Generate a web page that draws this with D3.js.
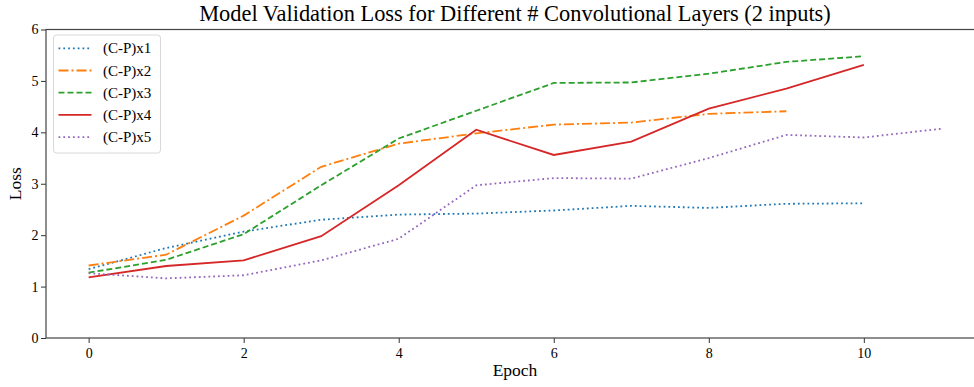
<!DOCTYPE html>
<html><head><meta charset="utf-8">
<script src="https://cdn.jsdelivr.net/npm/d3@7"></script>
<style>body{margin:0;background:#fff}svg{display:block}text{font-family:"Liberation Serif","Times New Roman",serif;fill:#000}</style>
</head><body><svg id="c" width="974" height="387"></svg>
<script>
const seriesNames = ["(C-P)x1","(C-P)x2","(C-P)x3","(C-P)x4","(C-P)x5"];
const x1 = [1.34,1.75,2.07,2.30,2.40,2.42,2.48,2.57,2.53,2.61,2.62];
const x2 = [1.41,1.62,2.38,3.33,3.78,3.98,4.15,4.19,4.36,4.41];
const x3 = [1.27,1.52,2.02,2.97,3.88,4.42,4.96,4.97,5.14,5.37,5.48];
const x4 = [1.18,1.40,1.51,1.98,2.97,4.05,3.56,3.82,4.46,4.85,5.31];
const x5 = [1.26,1.16,1.22,1.51,1.93,2.97,3.11,3.10,3.50,3.95,3.90,4.07];
const xTicks = [0,2,4,6,8,10];
const yTicks = [0,1,2,3,4,5,6];
const colors = ["#1f77b4","#ff7f0e","#2ca02c","#d62728","#9467bd"];
const dashes = ["1.8,3","10,3,2,3","6,3","none","1.8,3"];

const svg = d3.select("#c");
const L=46, R=984, T=29.5, B=338;
const x = d3.scaleLinear().domain([-0.55,11.55]).range([L,R]);
const y = d3.scaleLinear().domain([0,6]).range([B,T]);
const g = svg.append("g");
const FF = '"Liberation Serif","Times New Roman",serif';

const xa = g.append("g").attr("transform",`translate(0,${B})`).call(d3.axisBottom(x).tickValues(xTicks).tickFormat(d3.format("d")).tickSize(5).tickPadding(5));
const ya = g.append("g").attr("transform",`translate(${L},0)`).call(d3.axisLeft(y).tickValues(yTicks).tickFormat(d3.format("d")).tickSize(5).tickPadding(2.5));
[xa,ya].forEach(a=>{a.attr("font-family",FF).attr("font-size",14);a.select(".domain").remove();a.selectAll("text").style("font-family",FF).style("font-size","14px");a.selectAll("line").attr("stroke","#333");});
g.append("rect").attr("x",L).attr("y",T).attr("width",R-L).attr("height",B-T).attr("fill","none").attr("stroke","#444").attr("stroke-width",1.2);

const data=[x1,x2,x3,x4,x5];
const line=d3.line().x((d,i)=>x(i)).y(d=>y(d));
data.forEach((s,k)=>{
  g.append("path").datum(s).attr("d",line).attr("fill","none").attr("stroke",colors[k]).attr("stroke-width",1.8).attr("stroke-dasharray",dashes[k]);
});

// legend
const lg=g.append("g");
lg.append("rect").attr("x",53.5).attr("y",35).attr("width",107).attr("height",118).attr("rx",3).attr("fill","#fff").attr("fill-opacity",0.8).attr("stroke","#d8d8d8");
seriesNames.forEach((n,k)=>{
  const yy=48.3+k*22.2;
  lg.append("line").attr("x1",58.5).attr("x2",91.5).attr("y1",yy).attr("y2",yy).attr("stroke",colors[k]).attr("stroke-width",1.8).attr("stroke-dasharray",dashes[k]);
  lg.append("text").attr("x",103).attr("y",yy+5).style("font-size","15px").text(n);
});

svg.append("text").attr("x",(L+R)/2).attr("y",21).attr("text-anchor","middle").style("font-size","22.4px").text("Model Validation Loss for Different # Convolutional Layers (2 inputs)");
svg.append("text").attr("x",(L+R)/2).attr("y",376).attr("text-anchor","middle").style("font-size","17.5px").text("Epoch");
svg.append("text").attr("transform",`translate(21,${(T+B)/2}) rotate(-90)`).attr("text-anchor","middle").style("font-size","17.5px").text("Loss");
</script></body></html>
